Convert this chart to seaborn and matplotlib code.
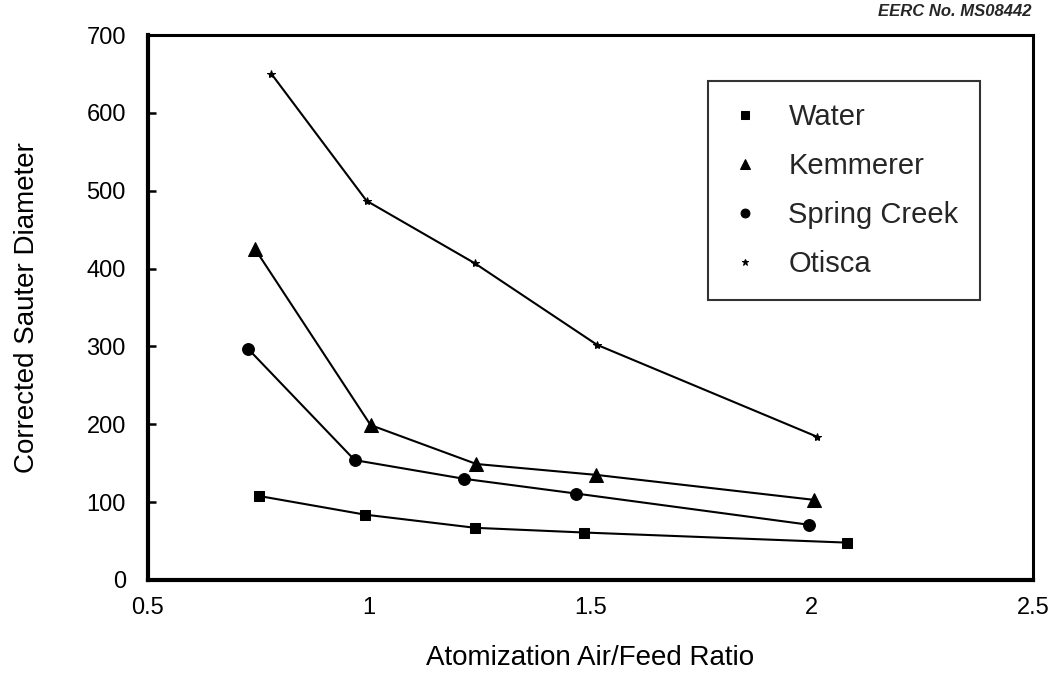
import matplotlib
matplotlib.use("Agg")
import matplotlib.pyplot as plt
import seaborn as sns
import pandas as pd

# ---- data ----
series_names = ["Water", "Kemmerer", "Spring Creek", "Otisca"]
water_x = [0.75, 0.99, 1.24, 1.485, 2.08]
water_y = [108, 84, 67, 61, 48]
kemmerer_x = [0.742, 1.003, 1.242, 1.513, 2.004]
kemmerer_y = [425, 199, 149, 135, 103]
spring_x = [0.726, 0.967, 1.214, 1.468, 1.993]
spring_y = [297, 154, 130, 111, 71]
otisca_x = [0.779, 0.994, 1.238, 1.515, 2.012]
otisca_y = [650, 487, 407, 302, 184]
x_ticks = [0.5, 1, 1.5, 2, 2.5]
x_tick_labels = ["0.5", "1", "1.5", "2", "2.5"]
y_ticks = [0, 100, 200, 300, 400, 500, 600, 700]

frames = []
for name, xs, ys in zip(series_names,
                        [water_x, kemmerer_x, spring_x, otisca_x],
                        [water_y, kemmerer_y, spring_y, otisca_y]):
    frames.append(pd.DataFrame({"ratio": xs, "diameter": ys, "fuel": name}))
df = pd.concat(frames, ignore_index=True)

sns.set_theme(style="ticks")
plt.rcParams["font.family"] = ["Liberation Sans", "DejaVu Sans"]

fig = plt.figure(figsize=(10.53, 6.92), dpi=100)
ax = fig.add_axes([148 / 1053, 1 - 580 / 692, (1033 - 148) / 1053, (580 - 35) / 692])

markers = {"Water": "s", "Kemmerer": "^", "Spring Creek": "o", "Otisca": "*"}
sizes = {"Water": 7.5, "Kemmerer": 10, "Spring Creek": 8.5, "Otisca": 6}

for name in series_names:
    sub = df[df["fuel"] == name]
    sns.lineplot(data=sub, x="ratio", y="diameter", ax=ax, color="black",
                 linewidth=1.5, marker=markers[name], markersize=sizes[name],
                 markeredgecolor="black", markerfacecolor="black",
                 label=name, estimator=None, sort=False)

ax.set_xlim(0.5, 2.5)
ax.set_ylim(0, 700)
ax.set_xticks(x_ticks)
ax.set_xticklabels(x_tick_labels)
ax.set_yticks(y_ticks)

for side in ["left", "bottom"]:
    ax.spines[side].set_linewidth(3)
for side in ["top", "right"]:
    ax.spines[side].set_linewidth(2.2)
for s in ax.spines.values():
    s.set_color("black")
    s.set_visible(True)

ax.tick_params(axis="y", direction="in", length=6, width=1.8, pad=16,
               labelsize=17, colors="black")
ax.tick_params(axis="x", length=0, pad=12, labelsize=17, colors="black")

ax.set_xlabel("Atomization Air/Feed Ratio", fontsize=20, color="black")
ax.set_ylabel("Corrected Sauter Diameter", fontsize=20, color="black")
ax.xaxis.set_label_coords(0.5, -0.12)
ax.yaxis.set_label_coords(-0.122, 0.5)

leg = ax.legend(loc="upper left", bbox_to_anchor=(0.633, 0.9156),
                frameon=True, fancybox=False, edgecolor="black",
                fontsize=21, markerscale=0.75, handlelength=1.0,
                handletextpad=1.0, labelspacing=0.72, borderpad=0.75,
                borderaxespad=0)
leg.get_frame().set_linewidth(1.5)
for h in leg.get_lines():
    h.set_linestyle("none")

fig.text(1032 / 1053, 1 - 12 / 692, "EERC No. MS08442", ha="right",
         va="center", fontsize=12, fontweight="bold", fontstyle="italic")

fig.savefig("out.png", dpi=100, facecolor="white")
